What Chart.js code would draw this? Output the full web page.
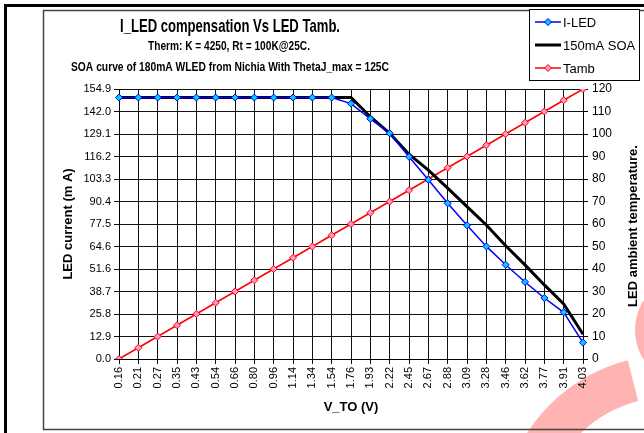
<!DOCTYPE html>
<html>
<head>
<meta charset="utf-8">
<script src="https://cdn.jsdelivr.net/npm/chart.js@4.4.0/dist/chart.umd.min.js"></script>
<style>
  html, body { margin: 0; padding: 0; background: #fff; }
  #wrap { width: 644px; height: 433px; }
</style>
</head>
<body>
<div id="wrap"><canvas id="chart" width="644" height="433"></canvas></div>
<script>
// x categories (V_TO in volts)
const voltages = ['0.16', '0.21', '0.27', '0.35', '0.43', '0.54', '0.66', '0.80', '0.96', '1.14', '1.34', '1.54', '1.76',
  '1.93', '2.22', '2.45', '2.67', '2.88', '3.09', '3.28', '3.46', '3.62', '3.77', '3.91', '4.03'];

// LED current, mA
const iLed = [150, 150, 150, 150, 150, 150, 150, 150, 150, 150, 150, 150, 146.5,
  137.8, 129.5, 116, 102.8, 89.3, 76.7, 64.6, 54.1, 44.2, 35, 26.8, 9.4];
const soa150 = [150, 150, 150, 150, 150, 150, 150, 150, 150, 150, 150, 150, 150,
  139, 129.5, 117.5, 108.4, 98, 87.4, 76.9, 65, 54, 42.5, 31.6, 14.2];

// ambient temperature, C
const tamb = [0, 5, 10, 15, 20, 25, 30, 35, 40, 45, 50, 55, 60,
  65, 70, 75, 80, 85, 90, 95, 100, 105, 110, 115, 120];

const leftTicks = ['0.0', '12.9', '25.8', '38.7', '51.6', '64.6', '77.5', '90.4', '103.3', '116.2', '129.1', '142.0', '154.9'];
const leftMax = 154.9;

const titleLines = ['I_LED compensation Vs LED Tamb.', 'Therm: K = 4250, Rt = 100K@25C.',
  'SOA curve of 180mA WLED from Nichia With ThetaJ_max = 125C'];
const rightTitle = 'LED ambient temperature.';

const FONT = '"Liberation Sans", Arial, sans-serif';

// frame, watermark, titles, legend
const decor = {
  id: 'decor',
  beforeDraw(chart) {
    const c = chart.ctx;
    c.save();
    c.fillStyle = '#fff';
    c.fillRect(0, 0, 644, 433);
    // pink watermark pieces
    c.fillStyle = 'rgba(255,160,160,0.8)';
    c.beginPath();
    c.arc(670, 525, 170, Math.PI * 1.08, Math.PI * 1.42);
    c.arc(670, 525, 128, Math.PI * 1.42, Math.PI * 1.08, true);
    c.closePath();
    c.fill();
    c.beginPath();
    c.arc(690, 330, 55, 0, Math.PI * 2);
    c.fill();
    c.restore();
  },
  afterDraw(chart) {
    const c = chart.ctx;
    c.save();
    // outer frame
    c.strokeStyle = '#000';
    c.lineWidth = 3;
    c.strokeRect(5.5, 5.5, 640, 440);
    // inner chart box
    c.strokeStyle = '#444';
    c.lineWidth = 1.5;
    c.strokeRect(43.5, 10.5, 640, 419);

    // titles
    c.fillStyle = '#000';
    c.textAlign = 'center';
    c.textBaseline = 'middle';
    c.font = 'bold 19px ' + FONT;
    c.fillText(titleLines[0], 230, 27, 220);
    c.font = 'bold 13px ' + FONT;
    c.fillText(titleLines[1], 229, 46, 162);
    c.fillText(titleLines[2], 230, 67, 318);

    // right axis title, reads bottom to top
    c.save();
    c.translate(633, 226);
    c.rotate(-Math.PI / 2);
    c.font = 'bold 13px ' + FONT;
    c.fillText(rightTitle, 0, 0, 164);
    c.restore();

    // legend
    c.fillStyle = '#fff';
    c.fillRect(529.5, 9.5, 110, 71);
    c.strokeStyle = '#000';
    c.lineWidth = 1;
    c.strokeRect(529.5, 9.5, 110, 71);
    const rows = [22, 45, 68];
    chart.data.datasets.forEach((ds, i) => {
      const y = rows[i];
      c.strokeStyle = ds.borderColor;
      c.lineWidth = ds.borderWidth;
      c.beginPath();
      c.moveTo(535, y);
      c.lineTo(561, y);
      c.stroke();
      if (ds.pointRadius > 0) {
        c.fillStyle = ds.pointBackgroundColor;
        c.strokeStyle = ds.borderColor;
        c.lineWidth = 1;
        c.beginPath();
        c.moveTo(548, y - 3.5);
        c.lineTo(551.5, y);
        c.lineTo(548, y + 3.5);
        c.lineTo(544.5, y);
        c.closePath();
        c.fill();
        c.stroke();
      }
      c.fillStyle = '#000';
      c.textAlign = 'left';
      c.font = '13px ' + FONT;
      c.fillText(ds.label, 563, y + 1, 74);
    });
    c.restore();
  }
};

new Chart(document.getElementById('chart'), {
  type: 'line',
  data: {
    labels: voltages,
    datasets: [{
      label: 'I-LED',
      data: iLed,
      yAxisID: 'y',
      borderColor: '#0000ff',
      borderWidth: 1.5,
      pointStyle: 'rectRot',
      pointRadius: 3.5,
      pointBackgroundColor: '#00ccff',
      pointBorderColor: '#0000ff',
      pointBorderWidth: 1
    }, {
      label: '150mA SOA',
      data: soa150,
      yAxisID: 'y',
      borderColor: '#000',
      borderWidth: 3,
      pointRadius: 0
    }, {
      label: 'Tamb',
      data: tamb,
      yAxisID: 'y2',
      borderColor: '#ff0000',
      borderWidth: 1.5,
      pointStyle: 'rectRot',
      pointRadius: 3.5,
      pointBackgroundColor: '#ff99cc',
      pointBorderColor: '#ff0000',
      pointBorderWidth: 1
    }]
  },
  options: {
    responsive: false,
    animation: false,
    layout: { padding: { left: 44, right: 0, top: 89, bottom: 12 } },
    plugins: {
      legend: { display: false },
      tooltip: { enabled: false }
    },
    elements: { line: { tension: 0 } },
    scales: {
      x: {
        offset: false,
        afterFit(s) { s.height = 62; },
        grid: { color: '#111', lineWidth: 1, tickLength: 5 },
        border: { color: '#000', width: 1 },
        ticks: {
          minRotation: 90, maxRotation: 90, autoSkip: false, padding: 3,
          color: '#000', font: { family: FONT, size: 11 }
        },
        title: {
          display: true, text: 'V_TO (V)', color: '#000',
          font: { family: FONT, size: 13, weight: 'bold' },
          padding: { top: 0, bottom: 6 }
        }
      },
      y: {
        position: 'left',
        min: 0,
        max: leftMax,
        afterFit(s) { s.width = 75; },
        afterBuildTicks(s) {
          s.ticks = leftTicks.map((t, i) => ({ value: leftMax * i / 12 }));
        },
        grid: { color: '#111', lineWidth: 1, tickLength: 5 },
        border: { color: '#000', width: 1 },
        ticks: {
          padding: 3, color: '#000', font: { family: FONT, size: 11 },
          callback: (v, i) => leftTicks[i]
        },
        title: {
          display: true, text: 'LED current (m A)', color: '#000',
          font: { family: FONT, size: 13, weight: 'bold' },
          padding: { top: 17, bottom: 0 }
        }
      },
      y2: {
        position: 'right',
        min: 0,
        max: 120,
        afterFit(s) { s.width = 61; },
        grid: { drawOnChartArea: false, color: '#000', tickLength: 5 },
        border: { color: '#000', width: 1 },
        ticks: {
          stepSize: 10, padding: 4, color: '#000', font: { family: FONT, size: 12 }
        },
        title: { display: false }
      }
    }
  },
  plugins: [decor]
});
</script>
</body>
</html>
